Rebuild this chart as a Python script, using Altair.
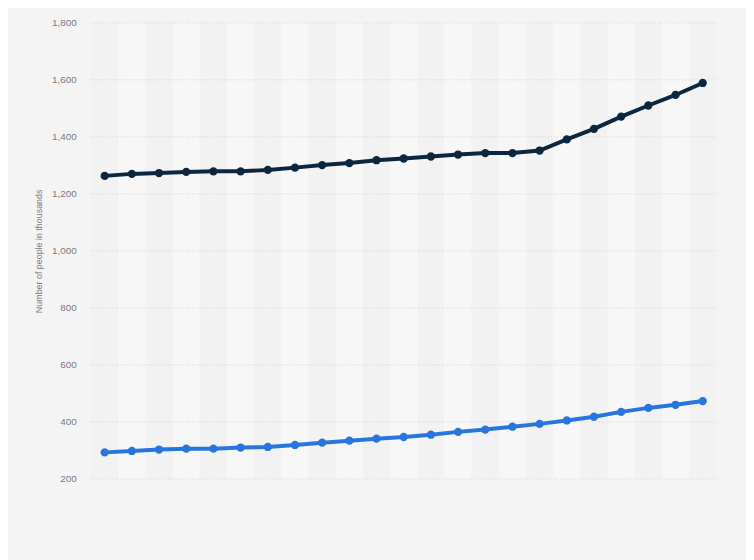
import altair as alt
import pandas as pd

years = [str(y) for y in range(2000, 2023)]
series_a = [1263, 1270, 1273, 1277, 1279, 1279, 1284, 1292, 1301, 1308, 1318, 1324,
            1331, 1338, 1343, 1343, 1352, 1391, 1428, 1471, 1510, 1547, 1589]
series_b = [293, 298, 303, 306, 306, 310, 312, 319, 327, 334, 341, 347,
            355, 365, 373, 383, 393, 405, 418, 435, 449, 460, 473]
series_names = ["Series A", "Series B"]
series_colors = ["#0d2640", "#2876dd"]
y_ticks = [200, 400, 600, 800, 1000, 1200, 1400, 1600, 1800]

rows = []
for i, yr in enumerate(years):
    rows.append({"year": yr, "series": series_names[0], "value": series_a[i]})
    rows.append({"year": yr, "series": series_names[1], "value": series_b[i]})
df = pd.DataFrame(rows)

bands = pd.DataFrame({"year": years, "parity": [i % 2 for i in range(len(years))]})
grid = pd.DataFrame({"value": y_ticks})

xscale = alt.Scale(type="band", domain=years, paddingInner=0, paddingOuter=0)
yscale = alt.Scale(domain=[200, 1800], nice=False, zero=False)

yaxis = alt.Axis(title="Number of people in thousands", values=y_ticks,
                 format=",d", domain=False, ticks=False, grid=False,
                 labelPadding=15, labelFontSize=10, labelColor="#7a7a7a",
                 labelFont="Liberation Sans",
                 titleFont="Liberation Sans", titleFontSize=9,
                 titleFontWeight="normal", titleColor="#7a7a7a",
                 titlePadding=8)

band_layer = alt.Chart(bands).mark_rect().encode(
    x=alt.X("year:N", scale=xscale, axis=None),
    y=alt.value(0),
    y2=alt.value(461),
    fill=alt.Fill("parity:N", scale=alt.Scale(domain=[0, 1], range=["#f2f2f2", "#f7f7f7"]), legend=None),
)

grid_layer = alt.Chart(grid).mark_rule(color="#d0d0d0", strokeDash=[1, 2], strokeWidth=1).encode(
    y=alt.Y("value:Q", scale=yscale, axis=yaxis),
    x=alt.value(0),
    x2=alt.value(632),
)

lines = alt.Chart(df).mark_line(
    strokeWidth=4,
    point=alt.OverlayMarkDef(filled=True, size=70, opacity=1),
).encode(
    x=alt.X("year:N", scale=xscale, axis=None),
    y=alt.Y("value:Q", scale=yscale, axis=yaxis),
    color=alt.Color("series:N", scale=alt.Scale(domain=series_names, range=series_colors), legend=None),
)

chart = alt.layer(band_layer, grid_layer, lines).properties(
    width=632, height=461,
    background="#f4f4f4",
    autosize=alt.AutoSizeParams(type="none"),
    padding={"left": 84, "top": 12, "right": 30, "bottom": 79},
).configure_view(stroke=None)

chart.save("out.html", embed_options={"renderer": "svg", "actions": False})
